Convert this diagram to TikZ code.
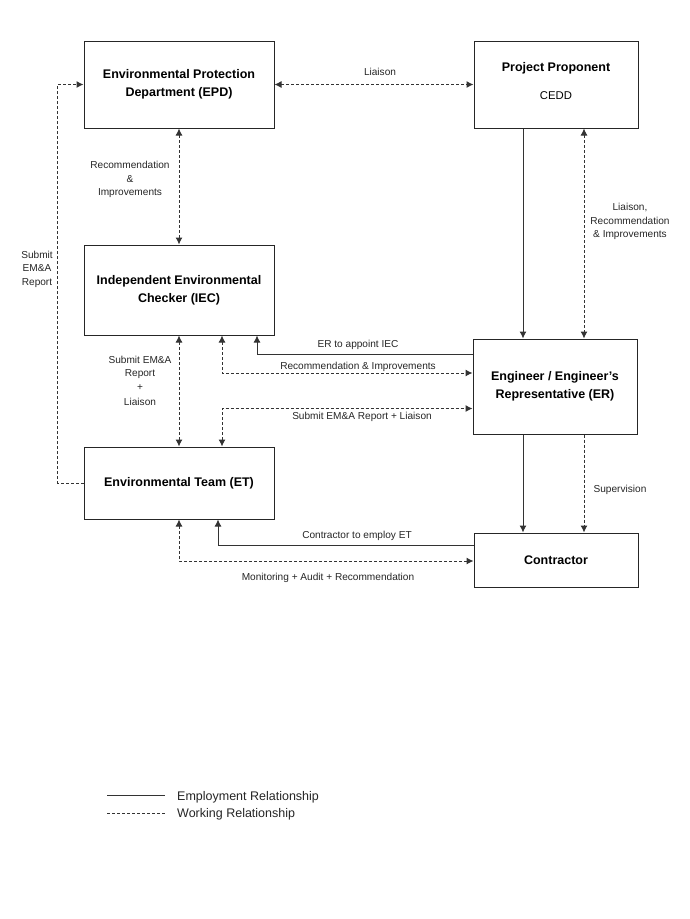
\documentclass[tikz,border=0pt]{standalone}
\usepackage{fontspec}
\setmainfont{Liberation Sans}
\usetikzlibrary{arrows.meta,calc}
\begin{document}
\begin{tikzpicture}[x=1pt,y=-1pt,
  box/.style={draw=black!85,line width=1pt,rectangle,align=center,inner sep=0pt,
    font=\fontsize{12.5}{18}\selectfont\bfseries},
  boxtext/.style={inner sep=0pt,align=center},
  lbl/.style={align=center,inner sep=0pt,font=\fontsize{10.1}{13.4}\selectfont,text=black!85},
  emp/.style={draw=black!80,line width=1pt},
  work/.style={draw=black!80,line width=1pt,dash pattern=on 3pt off 2pt},
  tip/.style={-{Latex[length=7pt,width=7pt]}},
  tips/.style={{Latex[length=7pt,width=7pt]}-{Latex[length=7pt,width=7pt]}}
]
\useasboundingbox (0,0) rectangle (689,919);
\fill[white] (0,0) rectangle (689,919);

% boxes
\node[box,minimum width=190pt,minimum height=87pt] (EPD) at (179,84.5)
  {Environmental Protection\\Department (EPD)};
\node[box,minimum width=164pt,minimum height=87pt] (PP) at (556,84.5) {};
\node[boxtext,font=\fontsize{12.5}{15}\selectfont\bfseries] (PPt) at (556,68) {Project Proponent};
\node[boxtext,font=\fontsize{11.3}{14}\selectfont] (PPc) at (556,96) {CEDD};
\node[box,minimum width=190pt,minimum height=90pt] (IEC) at (179,290)
  {Independent Environmental\\Checker (IEC)};
\node[box,minimum width=164pt,minimum height=95pt] (ER) at (555,386.5)
  {Engineer / Engineer's\\Representative (ER)};
\node[box,minimum width=190pt,minimum height=72pt] (ET) at (179,483)
  {Environmental Team (ET)};
\node[box,minimum width=164pt,minimum height=54pt] (CON) at (556,560)
  {Contractor};

% EPD <-> PP
\draw[work,tips] (EPD.east) -- (PP.west);
\node[lbl] (lLiaison) at (380,72) {Liaison};

% ET -> EPD (left loop)
\draw[work,tip] (ET.west) -- ++(-26,0) |- (EPD.west);
\node[lbl] (lSubmitLeft) at (37,269) {Submit\\EM\&A\\Report};

% EPD <-> IEC
\draw[work,tips] (EPD.south) -- (IEC.north);
\node[lbl] (lRecImp) at (130,179.5) {Recommendation\\\&\\Improvements};

% PP -> ER
\coordinate (ppA) at ([xshift=-33pt]PP.south);
\coordinate (ppB) at ([xshift=28pt]PP.south);
\draw[emp,tip] (ppA) -- (ppA |- ER.north);
\draw[work,tips] (ppB) -- (ppB |- ER.north);
\node[lbl] (lLiaisonRec) at (630,221.5) {Liaison,\\Recommendation\\\& Improvements};

% IEC <-> ET
\draw[work,tips] (IEC.south) -- (ET.north);
\node[lbl] (lSubmitMid) at (140,380.5) {Submit EM\&A\\Report\\[1pt]+\\[1pt]Liaison};

% ER -> IEC (employment)
\draw[emp,tip] ([yshift=32.5pt]ER.west) -| ([xshift=78pt]IEC.south);
\node[lbl] (lAppoint) at (358,345) {ER to appoint IEC};

% IEC <-> ER recommendation
\draw[work,tips] ([xshift=43pt]IEC.south) |- ([yshift=13.5pt]ER.west);
\node[lbl] (lRecImp2) at (358,366.5) {Recommendation \& Improvements};

% ET <-> ER submit
\draw[work,tips] ([xshift=43pt]ET.north) |- ([yshift=-22pt]ER.west);
\node[lbl] (lSubmitER) at (362,417) {Submit EM\&A Report + Liaison};

% ER -> Contractor
\coordinate (erA) at ([xshift=-32pt]ER.south);
\coordinate (erB) at ([xshift=29pt]ER.south);
\draw[emp,tip] (erA) -- (erA |- CON.north);
\draw[work,tip] (erB) -- (erB |- CON.north);
\node[lbl] (lSup) at (620,490) {Supervision};

% Contractor -> ET (employment)
\draw[emp,tip] ([yshift=15pt]CON.west) -| ([xshift=39pt]ET.south);
\node[lbl] (lEmploy) at (357,536) {Contractor to employ ET};

% ET <-> Contractor monitoring
\draw[work,tips] (ET.south) |- ([yshift=-1pt]CON.west);
\node[lbl] (lMon) at (328,578) {Monitoring + Audit + Recommendation};

% legend
\coordinate (lg1a) at (107,795);
\coordinate (lg1b) at (165,795);
\coordinate (lg2a) at (107,813);
\coordinate (lg2b) at (165,813);
\draw[emp] (lg1a) -- (lg1b);
\draw[work] (lg2a) -- (lg2b);
\node[anchor=west,inner sep=0pt,font=\fontsize{12.5}{14}\selectfont,text=black!85] (lgEmp) at (177,797.5) {Employment Relationship};
\node[anchor=west,inner sep=0pt,font=\fontsize{12.5}{14}\selectfont,text=black!85] (lgWork) at (177,814) {Working Relationship};
\end{tikzpicture}
\end{document}
